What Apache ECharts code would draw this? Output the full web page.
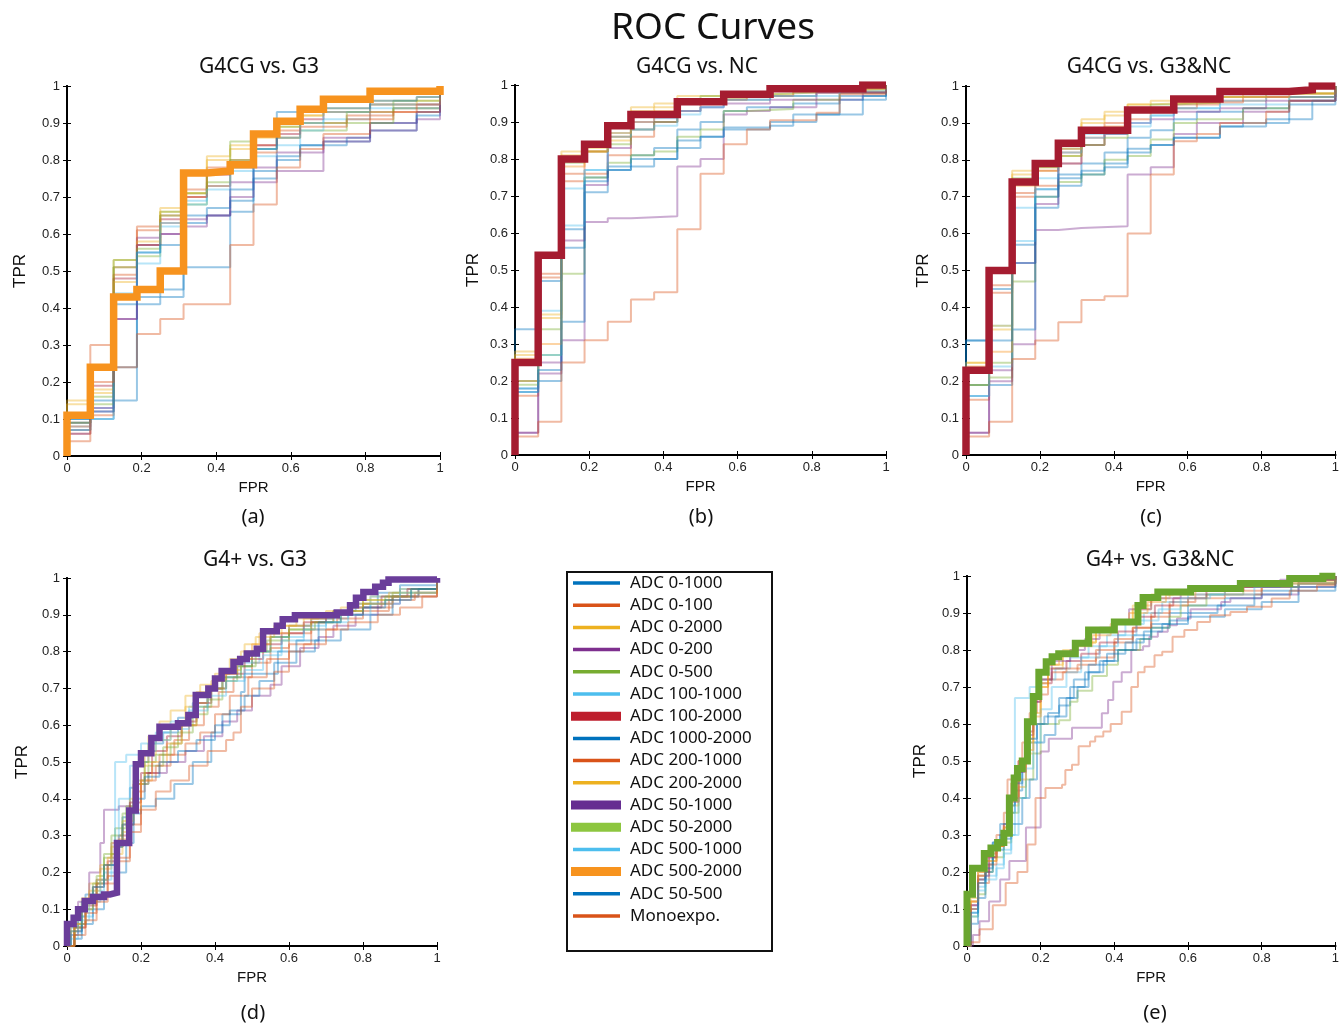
<!DOCTYPE html>
<html><head><meta charset="utf-8">
<script src="https://cdn.jsdelivr.net/npm/echarts@6/dist/echarts.min.js"></script>
<style>html,body{margin:0;padding:0;background:#fff}#c{width:1342px;height:1027px}</style>
</head><body><div id="c"></div>
<script>
const seriesNames = ['ADC 0-1000','ADC 0-100','ADC 0-2000','ADC 0-200','ADC 0-500','ADC 100-1000','ADC 100-2000','ADC 1000-2000','ADC 200-1000','ADC 200-2000','ADC 50-1000','ADC 50-2000','ADC 500-1000','ADC 500-2000','ADC 50-500','Monoexpo.'];
const lineColors = ['#0072BD','#D95319','#EDB120','#7E2F8E','#77AC30','#4DBEEE','#A2142F','#0072BD','#D95319','#EDB120','#7E2F8E','#77AC30','#4DBEEE','#F7931E','#0072BD','#D95319'];
const legendColors = ['#0072BD','#D95319','#EDB120','#7E2F8E','#77AC30','#4DBEEE','#BE1E2D','#0072BD','#D95319','#EDB120','#662D91','#8DC63F','#4DBEEE','#F7931E','#0072BD','#D95319'];
const legendThick = [6,10,11,13];
const panelTitles = ['G4CG vs. G3','G4CG vs. NC','G4CG vs. G3&NC','G4+ vs. G3','G4+ vs. G3&NC'];
const panelLetters = ['(a)','(b)','(c)','(d)','(e)'];
const highlightIndex = [13,6,6,10,11];
const highlightColors = ['#F7931E','#A51C30','#A51C30','#6A3D9A','#6AA62F'];
const highlightWidths = [7.5,7.5,7.5,6.5,7];
const xTicks = [0,0.2,0.4,0.6,0.8,1];
const yTicks = [0,0.1,0.2,0.3,0.4,0.5,0.6,0.7,0.8,0.9,1];

// ROC curves: [FPR, TPR] corners, per panel, ordered as seriesNames
const rocA = [
 [[0,0.10],[0.125,0.24],[0.1875,0.41],[0.25,0.43],[0.3125,0.51],[0.4375,0.66],[0.5,0.75],[0.5625,0.80],[0.625,0.84],[0.75,0.86],[0.8125,0.90],[0.9375,0.93],[1,1]],
 [[0,0.06],[0.0625,0.30],[0.125,0.51],[0.1875,0.62],[0.25,0.63],[0.3125,0.72],[0.375,0.78],[0.4375,0.80],[0.5,0.84],[0.5625,0.88],[0.625,0.90],[0.75,0.92],[0.875,0.94],[1,1]],
 [[0,0.15],[0.0625,0.17],[0.125,0.53],[0.1875,0.57],[0.25,0.66],[0.3125,0.71],[0.375,0.80],[0.4375,0.83],[0.5,0.86],[0.5625,0.90],[0.625,0.92],[0.6875,0.94],[0.8125,0.96],[1,1]],
 [[0,0.06],[0.0625,0.12],[0.125,0.37],[0.1875,0.59],[0.25,0.60],[0.3125,0.64],[0.375,0.65],[0.4375,0.74],[0.5,0.78],[0.5625,0.82],[0.6875,0.86],[0.8125,0.90],[0.9375,0.93],[1,1]],
 [[0,0.07],[0.0625,0.16],[0.125,0.53],[0.1875,0.54],[0.25,0.66],[0.3125,0.68],[0.375,0.74],[0.4375,0.80],[0.5,0.83],[0.5625,0.86],[0.625,0.88],[0.75,0.90],[0.875,0.94],[1,1]],
 [[0,0.08],[0.0625,0.13],[0.125,0.44],[0.1875,0.52],[0.25,0.62],[0.3125,0.69],[0.375,0.73],[0.4375,0.77],[0.5,0.81],[0.5625,0.84],[0.625,0.88],[0.6875,0.91],[0.8125,0.94],[1,1]],
 [[0,0.09],[0.0625,0.19],[0.125,0.48],[0.1875,0.57],[0.25,0.64],[0.3125,0.70],[0.375,0.76],[0.4375,0.79],[0.5,0.84],[0.5625,0.87],[0.625,0.91],[0.6875,0.93],[0.8125,0.95],[1,1]],
 [[0,0.09],[0.0625,0.15],[0.1875,0.43],[0.25,0.45],[0.3125,0.63],[0.375,0.65],[0.4375,0.69],[0.5,0.77],[0.5625,0.81],[0.625,0.84],[0.6875,0.85],[0.8125,0.88],[0.9375,0.92],[1,1]],
 [[0,0.08],[0.0625,0.11],[0.125,0.49],[0.1875,0.61],[0.25,0.65],[0.3125,0.70],[0.375,0.73],[0.4375,0.78],[0.5,0.82],[0.5625,0.86],[0.625,0.89],[0.75,0.91],[0.875,0.93],[1,1]],
 [[0,0.14],[0.0625,0.18],[0.125,0.47],[0.1875,0.58],[0.25,0.67],[0.3125,0.71],[0.375,0.81],[0.4375,0.84],[0.5,0.87],[0.5625,0.89],[0.625,0.92],[0.6875,0.93],[0.8125,0.95],[0.9375,0.97],[1,1]],
 [[0,0.07],[0.0625,0.13],[0.125,0.37],[0.1875,0.57],[0.25,0.60],[0.3125,0.62],[0.375,0.65],[0.4375,0.70],[0.5,0.74],[0.5625,0.77],[0.6875,0.85],[0.8125,0.88],[0.9375,0.91],[1,1]],
 [[0,0.09],[0.0625,0.14],[0.125,0.51],[0.1875,0.56],[0.25,0.65],[0.3125,0.71],[0.375,0.77],[0.4375,0.85],[0.5,0.87],[0.5625,0.89],[0.625,0.90],[0.75,0.93],[0.875,0.96],[1,1]],
 [[0,0.07],[0.0625,0.10],[0.125,0.43],[0.1875,0.55],[0.25,0.63],[0.3125,0.68],[0.375,0.72],[0.4375,0.78],[0.5,0.83],[0.5625,0.86],[0.625,0.90],[0.6875,0.93],[0.8125,0.95],[1,1]],
 [[0,0.11],[0.0625,0.24],[0.125,0.43],[0.1875,0.45],[0.25,0.50],[0.3125,0.765],[0.375,0.77],[0.4375,0.787],[0.5,0.87],[0.5625,0.905],[0.625,0.937],[0.6875,0.964],[0.8125,0.986],[1,1]],
 [[0,0.10],[0.0625,0.12],[0.125,0.41],[0.1875,0.55],[0.25,0.57],[0.3125,0.65],[0.375,0.67],[0.4375,0.72],[0.5,0.83],[0.5625,0.93],[0.6875,0.94],[0.8125,0.96],[0.9375,0.97],[1,1]],
 [[0,0.04],[0.0625,0.20],[0.125,0.24],[0.1875,0.33],[0.25,0.37],[0.3125,0.41],[0.4375,0.57],[0.5,0.68],[0.5625,0.78],[0.625,0.83],[0.6875,0.87],[0.8125,0.93],[0.9375,0.95],[1,1]]
];
const rocB = [
 [[0,0.34],[0.0625,0.47],[0.125,0.61],[0.1875,0.75],[0.25,0.78],[0.3125,0.81],[0.375,0.83],[0.4375,0.88],[0.5,0.90],[0.5625,0.93],[0.625,0.94],[0.75,0.95],[0.875,0.97],[1,1]],
 [[0,0.20],[0.0625,0.48],[0.125,0.74],[0.1875,0.76],[0.25,0.81],[0.3125,0.86],[0.375,0.90],[0.4375,0.93],[0.5,0.95],[0.5625,0.96],[0.6875,0.97],[0.8125,0.98],[1,1]],
 [[0,0.28],[0.0625,0.37],[0.125,0.81],[0.1875,0.82],[0.25,0.86],[0.3125,0.93],[0.375,0.94],[0.4375,0.96],[0.5,0.965],[0.625,0.975],[0.75,0.985],[1,1]],
 [[0,0.06],[0.0625,0.25],[0.125,0.31],[0.1875,0.63],[0.25,0.64],[0.3125,0.645],[0.4375,0.78],[0.5,0.80],[0.5625,0.92],[0.625,0.93],[0.6875,0.94],[0.8125,0.96],[0.9375,0.98],[1,1]],
 [[0,0.20],[0.0625,0.34],[0.125,0.49],[0.1875,0.75],[0.25,0.79],[0.3125,0.81],[0.375,0.82],[0.4375,0.86],[0.5,0.88],[0.5625,0.93],[0.625,0.935],[0.75,0.96],[0.875,0.98],[1,1]],
 [[0,0.18],[0.0625,0.39],[0.125,0.72],[0.1875,0.77],[0.25,0.87],[0.3125,0.90],[0.375,0.91],[0.4375,0.92],[0.5,0.94],[0.5625,0.96],[0.6875,0.97],[0.8125,0.98],[1,1]],
 [[0,0.25],[0.0625,0.54],[0.125,0.80],[0.1875,0.84],[0.25,0.89],[0.3125,0.92],[0.4375,0.955],[0.5625,0.975],[0.6875,0.99],[0.9375,1],[1,1]],
 [[0,0.18],[0.0625,0.20],[0.125,0.36],[0.1875,0.71],[0.25,0.77],[0.3125,0.78],[0.375,0.80],[0.4375,0.85],[0.5,0.86],[0.5625,0.88],[0.6875,0.89],[0.75,0.92],[0.875,0.96],[1,1]],
 [[0,0.16],[0.0625,0.49],[0.125,0.76],[0.1875,0.82],[0.25,0.86],[0.3125,0.90],[0.375,0.92],[0.4375,0.95],[0.5,0.96],[0.625,0.97],[0.75,0.98],[1,1]],
 [[0,0.27],[0.0625,0.38],[0.125,0.82],[0.1875,0.83],[0.25,0.85],[0.3125,0.94],[0.375,0.95],[0.4375,0.97],[0.5625,0.98],[0.6875,0.99],[1,1]],
 [[0,0.06],[0.0625,0.22],[0.125,0.58],[0.1875,0.73],[0.25,0.83],[0.3125,0.88],[0.375,0.90],[0.4375,0.93],[0.5,0.94],[0.5625,0.95],[0.6875,0.96],[0.8125,0.98],[1,1]],
 [[0,0.19],[0.0625,0.27],[0.125,0.79],[0.1875,0.82],[0.25,0.84],[0.3125,0.88],[0.375,0.90],[0.4375,0.96],[0.5,0.97],[0.5625,0.975],[0.6875,0.98],[0.8125,0.99],[1,1]],
 [[0,0.17],[0.0625,0.27],[0.125,0.62],[0.1875,0.77],[0.25,0.86],[0.3125,0.88],[0.375,0.89],[0.4375,0.93],[0.5,0.94],[0.5625,0.96],[0.6875,0.97],[0.875,0.985],[1,1]],
 [[0,0.26],[0.0625,0.30],[0.125,0.78],[0.1875,0.82],[0.25,0.87],[0.3125,0.92],[0.375,0.93],[0.4375,0.955],[0.5,0.96],[0.5625,0.975],[0.6875,0.985],[0.875,0.99],[1,1]],
 [[0,0.17],[0.0625,0.23],[0.125,0.56],[0.1875,0.74],[0.25,0.77],[0.3125,0.80],[0.4375,0.83],[0.5,0.86],[0.5625,0.885],[0.6875,0.90],[0.8125,0.92],[0.9375,0.97],[1,1]],
 [[0,0.05],[0.0625,0.09],[0.125,0.25],[0.1875,0.31],[0.25,0.36],[0.3125,0.42],[0.375,0.44],[0.4375,0.61],[0.5,0.76],[0.5625,0.84],[0.625,0.88],[0.6875,0.905],[0.8125,0.925],[0.875,0.975],[1,1]]
];
const rocC = [
 [[0,0.31],[0.0625,0.45],[0.125,0.57],[0.1875,0.72],[0.25,0.75],[0.3125,0.79],[0.375,0.82],[0.4375,0.86],[0.5,0.88],[0.5625,0.91],[0.625,0.93],[0.75,0.94],[0.875,0.96],[1,1]],
 [[0,0.19],[0.0625,0.44],[0.125,0.70],[0.1875,0.73],[0.25,0.79],[0.3125,0.84],[0.375,0.87],[0.4375,0.91],[0.5,0.93],[0.5625,0.95],[0.6875,0.96],[0.8125,0.97],[1,1]],
 [[0,0.25],[0.0625,0.34],[0.125,0.76],[0.1875,0.77],[0.25,0.83],[0.3125,0.91],[0.375,0.92],[0.4375,0.95],[0.5,0.955],[0.625,0.97],[0.75,0.98],[1,1]],
 [[0,0.06],[0.0625,0.23],[0.125,0.30],[0.1875,0.61],[0.25,0.615],[0.3125,0.62],[0.4375,0.76],[0.5,0.78],[0.5625,0.87],[0.625,0.90],[0.75,0.93],[0.875,0.96],[1,1]],
 [[0,0.19],[0.0625,0.21],[0.125,0.47],[0.1875,0.70],[0.25,0.74],[0.3125,0.76],[0.375,0.80],[0.4375,0.81],[0.5,0.855],[0.5625,0.90],[0.625,0.91],[0.75,0.94],[0.875,0.97],[1,1]],
 [[0,0.19],[0.0625,0.35],[0.125,0.67],[0.1875,0.72],[0.25,0.83],[0.3125,0.87],[0.375,0.88],[0.4375,0.89],[0.5,0.92],[0.5625,0.94],[0.6875,0.96],[0.8125,0.97],[1,1]],
 [[0,0.23],[0.0625,0.50],[0.125,0.74],[0.1875,0.79],[0.25,0.845],[0.3125,0.88],[0.4375,0.935],[0.5625,0.965],[0.6875,0.985],[0.875,0.99],[0.9375,1],[1,1]],
 [[0,0.16],[0.0625,0.19],[0.125,0.34],[0.1875,0.67],[0.25,0.73],[0.3125,0.76],[0.375,0.78],[0.4375,0.83],[0.5,0.84],[0.5625,0.86],[0.6875,0.89],[0.75,0.90],[0.875,0.95],[1,1]],
 [[0,0.15],[0.0625,0.46],[0.125,0.71],[0.1875,0.77],[0.25,0.82],[0.3125,0.86],[0.375,0.90],[0.4375,0.93],[0.5,0.94],[0.625,0.955],[0.75,0.97],[1,1]],
 [[0,0.25],[0.0625,0.35],[0.125,0.77],[0.1875,0.78],[0.25,0.81],[0.3125,0.90],[0.375,0.93],[0.4375,0.95],[0.5,0.96],[0.5625,0.97],[0.6875,0.98],[1,1]],
 [[0,0.06],[0.0625,0.20],[0.125,0.52],[0.1875,0.68],[0.25,0.79],[0.3125,0.84],[0.375,0.87],[0.4375,0.90],[0.5,0.91],[0.5625,0.93],[0.6875,0.94],[0.8125,0.96],[1,1]],
 [[0,0.19],[0.0625,0.25],[0.125,0.75],[0.1875,0.78],[0.25,0.81],[0.3125,0.84],[0.375,0.86],[0.4375,0.94],[0.5,0.95],[0.5625,0.955],[0.6875,0.97],[0.8125,0.98],[1,1]],
 [[0,0.16],[0.0625,0.24],[0.125,0.58],[0.1875,0.75],[0.25,0.82],[0.3125,0.86],[0.375,0.87],[0.4375,0.90],[0.5,0.92],[0.5625,0.94],[0.6875,0.95],[0.875,0.97],[1,1]],
 [[0,0.24],[0.0625,0.28],[0.125,0.73],[0.1875,0.79],[0.25,0.83],[0.3125,0.88],[0.375,0.89],[0.4375,0.93],[0.5,0.94],[0.5625,0.955],[0.6875,0.97],[0.875,0.98],[1,1]],
 [[0,0.31],[0.125,0.52],[0.1875,0.70],[0.25,0.76],[0.3125,0.77],[0.375,0.79],[0.4375,0.82],[0.5,0.84],[0.5625,0.86],[0.6875,0.89],[0.8125,0.91],[0.9375,0.96],[1,1]],
 [[0,0.05],[0.0625,0.09],[0.125,0.26],[0.1875,0.31],[0.25,0.36],[0.3125,0.42],[0.375,0.43],[0.4375,0.60],[0.5,0.76],[0.5625,0.85],[0.625,0.87],[0.6875,0.90],[0.8125,0.93],[0.875,0.96],[1,1]]
];
const rocD = [
 [[0.01,0.05],[0.03,0.08],[0.05,0.14],[0.08,0.18],[0.11,0.22],[0.13,0.27],[0.15,0.35],[0.17,0.43],[0.19,0.50],[0.22,0.55],[0.26,0.58],[0.3,0.62],[0.34,0.66],[0.38,0.70],[0.42,0.73],[0.46,0.76],[0.5,0.80],[0.55,0.84],[0.6,0.87],[0.66,0.89],[0.72,0.91],[0.78,0.93],[0.84,0.96],[0.9,0.98],[1,1]],
 [[0.02,0.04],[0.04,0.10],[0.07,0.16],[0.1,0.22],[0.12,0.28],[0.15,0.33],[0.18,0.42],[0.21,0.47],[0.25,0.52],[0.29,0.56],[0.33,0.60],[0.37,0.65],[0.41,0.69],[0.45,0.73],[0.5,0.77],[0.55,0.81],[0.6,0.85],[0.66,0.88],[0.72,0.90],[0.8,0.92],[0.88,0.95],[0.95,0.97],[1,1]],
 [[0.01,0.06],[0.04,0.13],[0.06,0.17],[0.09,0.21],[0.12,0.25],[0.15,0.31],[0.17,0.40],[0.19,0.49],[0.22,0.57],[0.25,0.61],[0.28,0.64],[0.32,0.68],[0.36,0.71],[0.4,0.74],[0.44,0.78],[0.48,0.82],[0.52,0.85],[0.58,0.87],[0.64,0.89],[0.7,0.91],[0.76,0.93],[0.82,0.95],[0.9,0.97],[1,1]],
 [[0.01,0.03],[0.03,0.12],[0.06,0.20],[0.09,0.28],[0.1,0.37],[0.14,0.38],[0.18,0.44],[0.22,0.47],[0.27,0.50],[0.32,0.53],[0.37,0.57],[0.42,0.61],[0.46,0.64],[0.5,0.68],[0.55,0.71],[0.58,0.76],[0.63,0.81],[0.68,0.84],[0.72,0.87],[0.78,0.90],[0.84,0.93],[0.9,0.95],[1,1]],
 [[0.02,0.06],[0.05,0.12],[0.08,0.19],[0.1,0.25],[0.13,0.32],[0.16,0.38],[0.19,0.44],[0.22,0.49],[0.26,0.54],[0.3,0.58],[0.34,0.63],[0.38,0.67],[0.42,0.72],[0.46,0.76],[0.5,0.80],[0.54,0.83],[0.6,0.86],[0.66,0.88],[0.72,0.91],[0.8,0.94],[0.88,0.96],[1,1]],
 [[0.01,0.03],[0.04,0.08],[0.07,0.15],[0.1,0.20],[0.13,0.50],[0.16,0.52],[0.2,0.55],[0.24,0.58],[0.28,0.61],[0.33,0.65],[0.38,0.70],[0.42,0.73],[0.47,0.77],[0.52,0.80],[0.58,0.84],[0.64,0.87],[0.7,0.89],[0.76,0.92],[0.82,0.95],[0.9,0.97],[1,1]],
 [[0.02,0.05],[0.05,0.11],[0.08,0.17],[0.11,0.23],[0.14,0.30],[0.17,0.39],[0.2,0.47],[0.23,0.53],[0.27,0.57],[0.31,0.61],[0.35,0.66],[0.39,0.70],[0.43,0.74],[0.48,0.78],[0.53,0.82],[0.58,0.85],[0.64,0.88],[0.7,0.90],[0.77,0.92],[0.85,0.95],[0.92,0.97],[1,1]],
 [[0.02,0.02],[0.04,0.06],[0.07,0.10],[0.1,0.14],[0.13,0.20],[0.16,0.28],[0.18,0.36],[0.2,0.38],[0.24,0.40],[0.29,0.44],[0.34,0.50],[0.39,0.58],[0.42,0.63],[0.47,0.69],[0.48,0.74],[0.57,0.80],[0.62,0.80],[0.67,0.83],[0.74,0.86],[0.82,0.90],[0.88,0.95],[0.95,0.97],[1,1]],
 [[0.02,0.05],[0.05,0.09],[0.08,0.14],[0.11,0.19],[0.14,0.24],[0.17,0.33],[0.2,0.45],[0.24,0.49],[0.28,0.52],[0.32,0.55],[0.36,0.58],[0.4,0.63],[0.44,0.68],[0.49,0.73],[0.54,0.78],[0.6,0.82],[0.66,0.86],[0.73,0.89],[0.8,0.91],[0.87,0.94],[0.94,0.96],[1,1]],
 [[0.01,0.04],[0.03,0.10],[0.06,0.15],[0.09,0.22],[0.12,0.27],[0.15,0.34],[0.18,0.44],[0.21,0.52],[0.24,0.56],[0.28,0.60],[0.32,0.65],[0.35,0.69],[0.39,0.72],[0.43,0.75],[0.47,0.80],[0.51,0.84],[0.56,0.87],[0.62,0.89],[0.68,0.90],[0.74,0.92],[0.8,0.94],[0.87,0.96],[1,1]],
 [[0,0.06],[0.018,0.077],[0.03,0.10],[0.048,0.122],[0.07,0.133],[0.1,0.14],[0.116,0.145],[0.135,0.28],[0.168,0.368],[0.186,0.494],[0.2,0.524],[0.228,0.565],[0.25,0.596],[0.30,0.605],[0.328,0.628],[0.348,0.682],[0.382,0.70],[0.40,0.727],[0.418,0.747],[0.45,0.772],[0.468,0.78],[0.486,0.795],[0.513,0.808],[0.53,0.855],[0.567,0.87],[0.583,0.888],[0.616,0.899],[0.729,0.906],[0.765,0.926],[0.781,0.946],[0.801,0.962],[0.833,0.976],[0.854,0.987],[0.869,0.996],[1,1]],
 [[0.02,0.05],[0.04,0.10],[0.07,0.17],[0.1,0.24],[0.12,0.30],[0.15,0.36],[0.18,0.45],[0.21,0.50],[0.24,0.52],[0.28,0.55],[0.31,0.60],[0.35,0.65],[0.39,0.70],[0.43,0.73],[0.47,0.76],[0.51,0.80],[0.55,0.84],[0.6,0.86],[0.67,0.88],[0.74,0.91],[0.8,0.93],[0.86,0.95],[0.93,0.97],[1,1]],
 [[0.01,0.02],[0.03,0.07],[0.06,0.12],[0.09,0.18],[0.12,0.24],[0.14,0.40],[0.17,0.49],[0.2,0.53],[0.24,0.56],[0.28,0.59],[0.33,0.64],[0.38,0.68],[0.43,0.72],[0.48,0.75],[0.53,0.79],[0.58,0.83],[0.64,0.86],[0.7,0.88],[0.76,0.90],[0.82,0.93],[0.9,0.96],[1,1]],
 [[0.02,0.06],[0.05,0.12],[0.08,0.18],[0.11,0.24],[0.14,0.29],[0.17,0.37],[0.2,0.45],[0.23,0.50],[0.27,0.55],[0.31,0.60],[0.35,0.66],[0.38,0.70],[0.42,0.74],[0.46,0.78],[0.5,0.82],[0.55,0.85],[0.6,0.87],[0.66,0.89],[0.72,0.91],[0.8,0.93],[0.88,0.95],[1,1]],
 [[0.01,0.04],[0.04,0.12],[0.07,0.16],[0.1,0.22],[0.13,0.27],[0.15,0.33],[0.18,0.40],[0.21,0.46],[0.25,0.50],[0.3,0.53],[0.35,0.56],[0.4,0.60],[0.44,0.64],[0.48,0.68],[0.52,0.72],[0.56,0.77],[0.62,0.83],[0.68,0.88],[0.74,0.90],[0.8,0.92],[0.86,0.94],[0.93,0.97],[1,1]],
 [[0.02,0.03],[0.05,0.07],[0.08,0.12],[0.11,0.17],[0.14,0.23],[0.17,0.31],[0.2,0.37],[0.24,0.42],[0.28,0.45],[0.33,0.49],[0.38,0.53],[0.43,0.56],[0.45,0.58],[0.47,0.65],[0.5,0.70],[0.56,0.745],[0.6,0.80],[0.64,0.82],[0.7,0.86],[0.76,0.88],[0.84,0.90],[0.9,0.92],[0.96,0.95],[1,1]]
];
const rocE = [
 [[0.01,0.10],[0.03,0.18],[0.05,0.22],[0.07,0.28],[0.09,0.30],[0.11,0.36],[0.13,0.42],[0.15,0.50],[0.17,0.55],[0.19,0.60],[0.21,0.62],[0.25,0.65],[0.28,0.70],[0.32,0.74],[0.36,0.77],[0.4,0.80],[0.45,0.84],[0.5,0.87],[0.55,0.90],[0.6,0.92],[0.7,0.94],[0.8,0.96],[0.9,0.98],[1,1]],
 [[0.01,0.12],[0.03,0.20],[0.06,0.25],[0.08,0.30],[0.1,0.36],[0.11,0.45],[0.13,0.47],[0.15,0.55],[0.17,0.63],[0.19,0.68],[0.22,0.72],[0.26,0.74],[0.3,0.76],[0.35,0.78],[0.4,0.82],[0.45,0.86],[0.5,0.90],[0.55,0.93],[0.62,0.95],[0.7,0.96],[0.8,0.97],[0.9,0.99],[1,1]],
 [[0.01,0.13],[0.03,0.19],[0.05,0.23],[0.08,0.27],[0.1,0.30],[0.12,0.38],[0.14,0.43],[0.16,0.52],[0.18,0.60],[0.2,0.70],[0.22,0.75],[0.26,0.79],[0.3,0.82],[0.35,0.85],[0.4,0.87],[0.45,0.91],[0.5,0.94],[0.55,0.96],[0.65,0.97],[0.8,0.98],[1,1]],
 [[0.016,0.03],[0.034,0.067],[0.06,0.12],[0.09,0.18],[0.115,0.23],[0.16,0.32],[0.2,0.526],[0.222,0.56],[0.285,0.59],[0.366,0.629],[0.383,0.665],[0.397,0.714],[0.42,0.74],[0.446,0.80],[0.478,0.81],[0.495,0.836],[0.518,0.849],[0.545,0.867],[0.57,0.885],[0.607,0.91],[0.69,0.93],[0.715,0.94],[0.8,0.95],[0.9,0.97],[1,1]],
 [[0.01,0.08],[0.03,0.14],[0.05,0.20],[0.07,0.24],[0.1,0.28],[0.12,0.36],[0.14,0.40],[0.16,0.45],[0.18,0.52],[0.2,0.60],[0.25,0.61],[0.28,0.66],[0.3,0.69],[0.34,0.73],[0.38,0.76],[0.41,0.80],[0.47,0.83],[0.5,0.86],[0.55,0.89],[0.58,0.92],[0.65,0.95],[0.75,0.97],[0.9,0.99],[1,1]],
 [[0.01,0.09],[0.03,0.16],[0.05,0.19],[0.08,0.22],[0.1,0.26],[0.12,0.30],[0.13,0.67],[0.17,0.70],[0.2,0.72],[0.24,0.75],[0.28,0.78],[0.33,0.81],[0.38,0.84],[0.43,0.87],[0.48,0.90],[0.53,0.93],[0.6,0.95],[0.7,0.97],[0.85,0.98],[1,1]],
 [[0.01,0.11],[0.03,0.18],[0.05,0.24],[0.08,0.27],[0.1,0.33],[0.12,0.40],[0.14,0.50],[0.16,0.58],[0.18,0.66],[0.2,0.71],[0.23,0.75],[0.27,0.77],[0.31,0.79],[0.36,0.82],[0.41,0.85],[0.46,0.89],[0.51,0.92],[0.56,0.94],[0.65,0.96],[0.75,0.97],[0.88,0.99],[1,1]],
 [[0.01,0.06],[0.03,0.13],[0.05,0.20],[0.07,0.26],[0.1,0.29],[0.12,0.33],[0.15,0.40],[0.17,0.45],[0.19,0.55],[0.21,0.57],[0.24,0.62],[0.27,0.67],[0.3,0.70],[0.33,0.74],[0.37,0.77],[0.41,0.80],[0.46,0.83],[0.5,0.86],[0.55,0.88],[0.6,0.90],[0.68,0.92],[0.78,0.95],[0.88,0.97],[1,1]],
 [[0.01,0.10],[0.03,0.17],[0.06,0.22],[0.08,0.27],[0.1,0.32],[0.12,0.44],[0.14,0.50],[0.16,0.56],[0.18,0.67],[0.2,0.72],[0.23,0.74],[0.27,0.75],[0.31,0.77],[0.35,0.80],[0.4,0.83],[0.45,0.86],[0.5,0.89],[0.55,0.92],[0.6,0.94],[0.7,0.95],[0.8,0.97],[0.9,0.98],[1,1]],
 [[0.01,0.12],[0.03,0.20],[0.05,0.24],[0.08,0.27],[0.1,0.32],[0.12,0.40],[0.14,0.47],[0.16,0.55],[0.18,0.63],[0.2,0.71],[0.22,0.76],[0.26,0.80],[0.3,0.82],[0.35,0.85],[0.4,0.88],[0.45,0.92],[0.5,0.95],[0.56,0.96],[0.66,0.97],[0.8,0.985],[1,1]],
 [[0.01,0.11],[0.03,0.19],[0.06,0.24],[0.08,0.28],[0.1,0.31],[0.12,0.39],[0.14,0.47],[0.16,0.57],[0.18,0.66],[0.2,0.72],[0.23,0.77],[0.28,0.80],[0.32,0.83],[0.36,0.86],[0.4,0.88],[0.44,0.91],[0.5,0.94],[0.58,0.96],[0.7,0.97],[0.85,0.99],[1,1]],
 [[0,0.14],[0.015,0.21],[0.047,0.25],[0.065,0.265],[0.083,0.28],[0.1,0.305],[0.115,0.40],[0.128,0.454],[0.137,0.48],[0.15,0.50],[0.164,0.606],[0.18,0.674],[0.195,0.74],[0.215,0.768],[0.231,0.782],[0.249,0.79],[0.294,0.818],[0.33,0.854],[0.40,0.876],[0.464,0.92],[0.478,0.942],[0.518,0.957],[0.607,0.966],[0.742,0.98],[0.876,0.993],[0.966,1],[1,1]],
 [[0.01,0.08],[0.03,0.15],[0.05,0.18],[0.08,0.21],[0.1,0.25],[0.12,0.30],[0.14,0.40],[0.16,0.48],[0.18,0.55],[0.2,0.64],[0.23,0.70],[0.27,0.74],[0.31,0.78],[0.36,0.81],[0.41,0.84],[0.46,0.88],[0.52,0.91],[0.58,0.94],[0.66,0.95],[0.78,0.97],[0.9,0.98],[1,1]],
 [[0.01,0.12],[0.03,0.19],[0.05,0.23],[0.08,0.27],[0.1,0.30],[0.12,0.39],[0.14,0.45],[0.16,0.53],[0.18,0.62],[0.2,0.70],[0.22,0.76],[0.25,0.79],[0.29,0.81],[0.34,0.84],[0.39,0.87],[0.44,0.90],[0.49,0.93],[0.54,0.95],[0.62,0.96],[0.75,0.98],[1,1]],
 [[0.01,0.09],[0.03,0.17],[0.05,0.21],[0.07,0.28],[0.09,0.33],[0.11,0.38],[0.13,0.44],[0.15,0.50],[0.17,0.56],[0.19,0.60],[0.22,0.63],[0.25,0.67],[0.29,0.72],[0.33,0.76],[0.38,0.79],[0.43,0.82],[0.48,0.85],[0.53,0.87],[0.6,0.89],[0.7,0.91],[0.8,0.93],[0.9,0.96],[1,1]],
 [[0.01,0.01],[0.034,0.045],[0.07,0.11],[0.105,0.17],[0.137,0.20],[0.164,0.274],[0.186,0.40],[0.213,0.427],[0.258,0.436],[0.267,0.476],[0.285,0.49],[0.303,0.54],[0.334,0.553],[0.348,0.566],[0.37,0.58],[0.39,0.60],[0.42,0.633],[0.446,0.70],[0.464,0.74],[0.482,0.755],[0.509,0.786],[0.53,0.795],[0.558,0.836],[0.59,0.854],[0.625,0.876],[0.66,0.894],[0.715,0.903],[0.76,0.917],[0.827,0.939],[0.876,0.96],[0.95,0.975],[1,1]]
];
const panelData = [rocA, rocB, rocC, rocD, rocE];

// layout (pixels)
const grids = [
  {left:67, top:86, width:373, height:370, tprGap:38},
  {left:515, top:85, width:371, height:370, tprGap:33},
  {left:966, top:86, width:371, height:369, tprGap:34},
  {left:67, top:578, width:370, height:368, tprGap:36},
  {left:967, top:576, width:371, height:370, tprGap:38}
];
const titlePos = [[259,67],[697,67],[1149,67],[255,560],[1160,560]];
const letterPos = [[253,517],[701,517],[1151,517],[253,1013],[1155,1013]];
const legendBox = {x:567, y:572, width:205, height:379};
const legendFirstY = 583, legendStep = 22.2;

const tickFont = {fontFamily:'Liberation Sans, Arial, sans-serif', fontSize:13, color:'#222'};
const axisLine = {show:true, lineStyle:{color:'#000', width:2}};
const fmt = v => (Math.abs(v) < 1e-9 ? '0' : (Math.abs(v-1) < 1e-9 ? '1' : v.toFixed(1)));
const titleFont = 'Noto Sans, Open Sans, sans-serif';

const xAxes = [], yAxes = [], series = [], graphics = [];
grids.forEach((g, p) => {
  xAxes.push({gridIndex:p, type:'value', min:0, max:1, interval:0.2, position:'bottom',
    axisLine, axisTick:{show:true, inside:true, length:4, lineStyle:{color:'#000'}},
    splitLine:{show:false}, axisLabel:Object.assign({margin:6, formatter:fmt}, tickFont),
    name:'FPR', nameLocation:'middle', nameGap:24,
    nameTextStyle:{fontFamily:'Liberation Sans, Arial, sans-serif', fontSize:15, color:'#111'}});
  xAxes.push({gridIndex:p, type:'value', min:0, max:1, interval:0.2, position:'top',
    axisLine, axisTick:{show:true, inside:true, length:4, lineStyle:{color:'#000'}},
    splitLine:{show:false}, axisLabel:{show:false}});
  yAxes.push({gridIndex:p, type:'value', min:0, max:1, interval:0.1, position:'left',
    axisLine, axisTick:{show:true, inside:true, length:4, lineStyle:{color:'#000'}},
    splitLine:{show:false}, axisLabel:Object.assign({margin:7, formatter:fmt}, tickFont),
    name:'TPR', nameLocation:'middle', nameGap:g.tprGap, nameRotate:90,
    nameTextStyle:{fontFamily:'Liberation Sans, Arial, sans-serif', fontSize:17, color:'#111'}});
  yAxes.push({gridIndex:p, type:'value', min:0, max:1, interval:0.1, position:'right',
    axisLine, axisTick:{show:true, inside:true, length:4, lineStyle:{color:'#000'}},
    splitLine:{show:false}, axisLabel:{show:false}});

  panelData[p].forEach((curve, k) => {
    const hi = (k === highlightIndex[p]);
    series.push({
      type:'line', name:seriesNames[k], xAxisIndex:2*p, yAxisIndex:2*p,
      data:[[0,0]].concat(curve), step:'end', symbol:'none', showSymbol:false,
      animation:false, silent:true,
      lineStyle: hi ? {color:highlightColors[p], width:highlightWidths[p], opacity:1, cap:'butt', join:'miter'}
                    : {color:lineColors[k], width:2, opacity:0.4},
      z: hi ? 5 : 2
    });
  });

  graphics.push({type:'text', x:titlePos[p][0], y:titlePos[p][1],
    style:{text:panelTitles[p], fontFamily:titleFont, fontSize:21, fill:'#111', textAlign:'center', textVerticalAlign:'middle'}});
  graphics.push({type:'text', x:letterPos[p][0], y:letterPos[p][1],
    style:{text:panelLetters[p], fontFamily:titleFont, fontSize:20, fill:'#111', textAlign:'center', textVerticalAlign:'middle'}});
});

graphics.push({type:'text', x:713, y:28,
  style:{text:'ROC Curves', fontFamily:titleFont, fontSize:37, fill:'#111', textAlign:'center', textVerticalAlign:'middle'}});
graphics.push({type:'rect', shape:legendBox,
  style:{fill:'none', stroke:'#111', lineWidth:2}, z:0});
seriesNames.forEach((n, k) => {
  const y = legendFirstY + legendStep * k;
  const thick = legendThick.includes(k);
  graphics.push({type:'line', shape:{x1:thick ? 571 : 573, y1:y, x2:thick ? 621 : 620, y2:y},
    style:{stroke:legendColors[k], lineWidth: thick ? 9 : 3.5}});
  graphics.push({type:'text', x:630, y:y,
    style:{text:n, fontFamily:titleFont, fontSize:17, fill:'#111', textAlign:'left', textVerticalAlign:'middle'}});
});

const chart = echarts.init(document.getElementById('c'), null, {renderer:'canvas'});
chart.setOption({
  animation:false,
  backgroundColor:'#fff',
  grid: grids.map(g => ({left:g.left, top:g.top, width:g.width, height:g.height, containLabel:false})),
  xAxis: xAxes, yAxis: yAxes, series,
  graphic: graphics
});
</script></body></html>
